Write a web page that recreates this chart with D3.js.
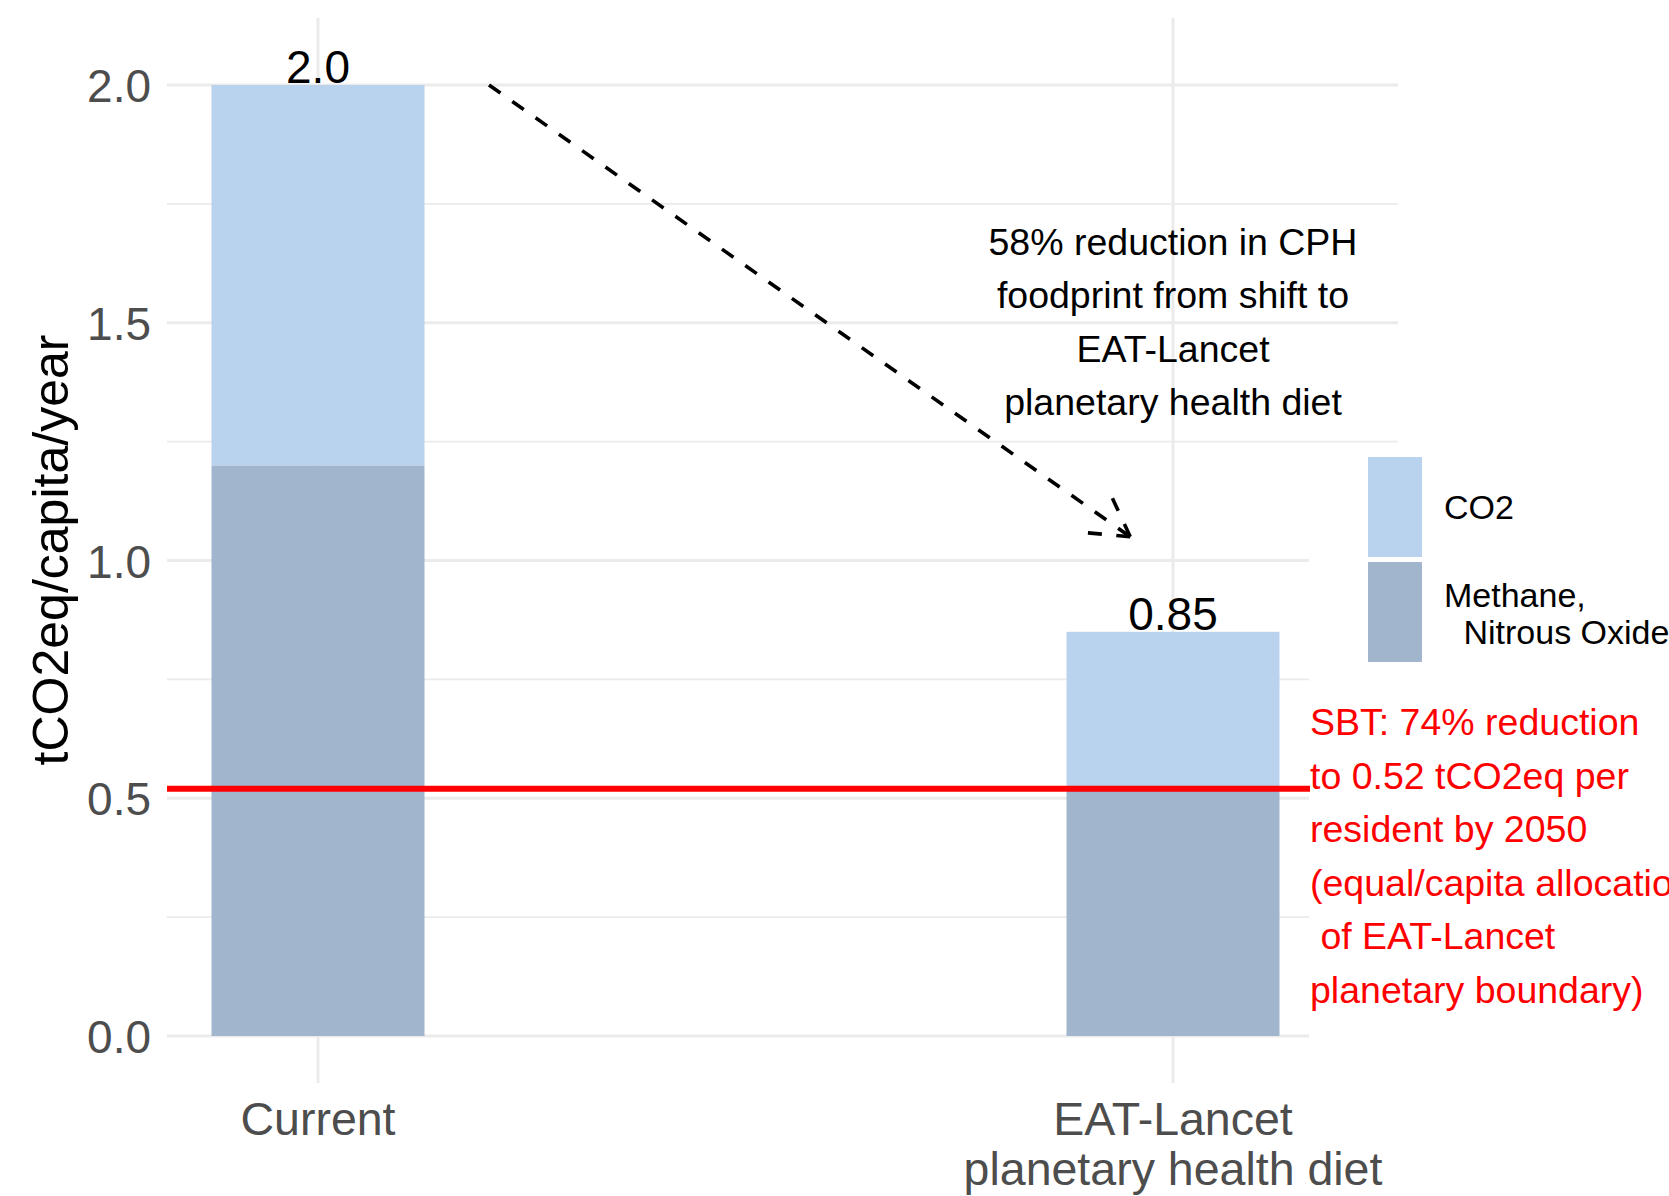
<!DOCTYPE html>
<html>
<head>
<meta charset="utf-8">
<script src="https://cdn.jsdelivr.net/npm/d3@7"></script>
<style>
  html, body { margin: 0; padding: 0; background: #fff; }
  svg { display: block; font-family: "Liberation Sans", Arial, Helvetica, sans-serif; }
</style>
</head>
<body>
<svg id="chart" width="1669" height="1196"></svg>
<script>
// ---------------- data ----------------
const categories = ["Current", "EAT-Lancet\nplanetary health diet"];
const categoryPos = [1, 2];
const seriesNames = ["Methane,\n Nitrous Oxide", "CO2"];
const methaneValues = [1.2, 0.52];
const co2Values = [0.8, 0.33];
const totalLabels = ["2.0", "0.85"];
const yTickValues = [0, 0.5, 1.0, 1.5, 2.0];
const yMinorValues = [0.25, 0.75, 1.25, 1.75];
const targetValue = 0.52;
const arrowFrom = [1.2, 2.0];
const arrowTo = [1.95, 1.05];
const noteText = ["58% reduction in CPH", "foodprint from shift to", "EAT-Lancet", "planetary health diet"];
const notePos = [2, 1.5];
const targetText = ["SBT: 74% reduction", "to 0.52 tCO2eq per", "resident by 2050", "(equal/capita allocation", " of EAT-Lancet", "planetary boundary)"];
const yTitle = "tCO2eq/capita/year";

// ---------------- setup ----------------
const svg = d3.select("#chart");
const colors = { "CO2": "#B9D2EE", "Methane,\n Nitrous Oxide": "#A1B5CD" };
const gridColor = "#EBEBEB";

const y = d3.scaleLinear().domain([0, 2]).range([1036, 85]);
const x = d3.scaleLinear().domain([1, 2]).range([318, 1173]);
const xCat = d3.scaleOrdinal().domain(categories).range(categoryPos.map(x));
const barW = 213;

const gridLeft = 167, gridRightUpper = 1398, gridRightLower = 1309;
const panelTop = 18, panelBottom = 1083;

// ---------------- grid ----------------
const grid = svg.append("g");
grid.selectAll("line.minor").data(yMinorValues).join("line")
  .attr("x1", gridLeft).attr("x2", d => d > 1.1 ? gridRightUpper : gridRightLower)
  .attr("y1", d => y(d)).attr("y2", d => y(d))
  .attr("stroke", gridColor).attr("stroke-width", 1.8);
grid.selectAll("line.major").data(yTickValues).join("line")
  .attr("x1", gridLeft).attr("x2", d => d > 1.1 ? gridRightUpper : gridRightLower)
  .attr("y1", d => y(d)).attr("y2", d => y(d))
  .attr("stroke", gridColor).attr("stroke-width", 3);
grid.selectAll("line.vert").data(categories).join("line")
  .attr("x1", d => xCat(d)).attr("x2", d => xCat(d))
  .attr("y1", panelTop).attr("y2", panelBottom)
  .attr("stroke", gridColor).attr("stroke-width", 3);

// ---------------- bars ----------------
const stackData = categories.map((c, i) => ({ cat: c, "Methane,\n Nitrous Oxide": methaneValues[i], "CO2": co2Values[i] }));
const stacked = d3.stack().keys(seriesNames)(stackData);
svg.append("g").selectAll("g").data(stacked).join("g")
  .attr("fill", s => colors[s.key])
  .selectAll("rect").data(s => s).join("rect")
  .attr("x", d => xCat(d.data.cat) - barW / 2)
  .attr("width", barW)
  .attr("y", d => y(d[1]))
  .attr("height", d => y(d[0]) - y(d[1]));

// total labels
svg.append("g").selectAll("text").data(categories).join("text")
  .attr("x", d => xCat(d))
  .attr("y", (d, i) => y(methaneValues[i] + co2Values[i]) - 2)
  .attr("text-anchor", "middle")
  .attr("font-size", 46)
  .attr("fill", "#000")
  .text((d, i) => totalLabels[i]);

// ---------------- white cover on right ----------------
svg.append("rect").attr("x", gridRightLower).attr("y", 449).attr("width", 1669 - gridRightLower).attr("height", 1196 - 449).attr("fill", "#fff");

// ---------------- target line ----------------
svg.append("line")
  .attr("x1", gridLeft).attr("x2", gridRightLower + 1)
  .attr("y1", y(targetValue)).attr("y2", y(targetValue))
  .attr("stroke", "#FF0000").attr("stroke-width", 6);

// ---------------- y axis ----------------
const yAxis = d3.axisLeft(y).tickValues(yTickValues).tickFormat(d3.format(".1f")).tickSize(0).tickPadding(0);
const yg = svg.append("g").attr("transform", "translate(151,0)").call(yAxis);
yg.select(".domain").remove();
yg.selectAll("text").attr("font-size", 46).attr("fill", "#4D4D4D")
  .attr("font-family", "'Liberation Sans', Arial, sans-serif").attr("dy", "0.36em");

svg.append("text")
  .attr("transform", "translate(68,550) rotate(-90)")
  .attr("text-anchor", "middle")
  .attr("font-size", 50)
  .attr("fill", "#000")
  .text(yTitle);

// ---------------- x axis ----------------
const xg = svg.append("g");
xg.selectAll("text").data(categories).join("text")
  .attr("x", d => xCat(d))
  .attr("y", 1135)
  .attr("text-anchor", "middle")
  .attr("font-size", 46.5)
  .attr("fill", "#4D4D4D")
  .each(function (d) {
    const lines = d.split("\n");
    d3.select(this).selectAll("tspan").data(lines).join("tspan")
      .attr("x", xCat(d)).attr("dy", (l, i) => i === 0 ? 0 : 50).text(l => l);
  });

// ---------------- arrow ----------------
const ax0 = x(arrowFrom[0]), ay0 = y(arrowFrom[1]);
const ax1 = x(arrowTo[0]), ay1 = y(arrowTo[1]);
const ang = Math.atan2(ay1 - ay0, ax1 - ax0);
const headLen = 50, headAng = Math.PI / 6;
const arrowG = svg.append("g").attr("stroke", "#000").attr("stroke-width", 3.6)
  .attr("stroke-dasharray", "14 14.5").attr("fill", "none");
arrowG.append("line").attr("x1", ax0).attr("y1", ay0).attr("x2", ax1).attr("y2", ay1);
[ang + Math.PI - headAng, ang + Math.PI + headAng].forEach(a => {
  arrowG.append("line").attr("x1", ax1).attr("y1", ay1)
    .attr("x2", ax1 + headLen * Math.cos(a)).attr("y2", ay1 + headLen * Math.sin(a));
});

// ---------------- note text ----------------
const noteG = svg.append("text")
  .attr("text-anchor", "middle").attr("font-size", 37.5).attr("fill", "#000");
noteG.selectAll("tspan").data(noteText).join("tspan")
  .attr("x", x(notePos[0]))
  .attr("y", (d, i) => y(notePos[1]) - 68 + i * 53.5)
  .text(d => d);

// ---------------- target text ----------------
const tg = svg.append("text").attr("font-size", 37.5).attr("fill", "#FF0000").attr("xml:space", "preserve");
tg.selectAll("tspan").data(targetText).join("tspan")
  .attr("x", 1310)
  .attr("y", (d, i) => 735 + i * 53.6)
  .attr("xml:space", "preserve")
  .text(d => d);

// ---------------- legend ----------------
const legendKeys = ["CO2", "Methane,\n Nitrous Oxide"];
const lg = svg.append("g");
lg.selectAll("rect").data(legendKeys).join("rect")
  .attr("x", 1368).attr("width", 54)
  .attr("y", (d, i) => 457 + i * 105).attr("height", 100)
  .attr("fill", d => colors[d]);
lg.selectAll("text").data(legendKeys).join("text")
  .attr("font-size", 34).attr("fill", "#000").attr("xml:space", "preserve")
  .each(function (d, i) {
    const lines = d.split("\n");
    const base = i === 0 ? 519 : 607;
    d3.select(this).selectAll("tspan").data(lines).join("tspan")
      .attr("x", (l, j) => 1444 + (j > 0 ? 10 : 0)).attr("y", (l, j) => base + j * 36.5)
      .attr("xml:space", "preserve").text(l => l);
  });
</script>
</body>
</html>
